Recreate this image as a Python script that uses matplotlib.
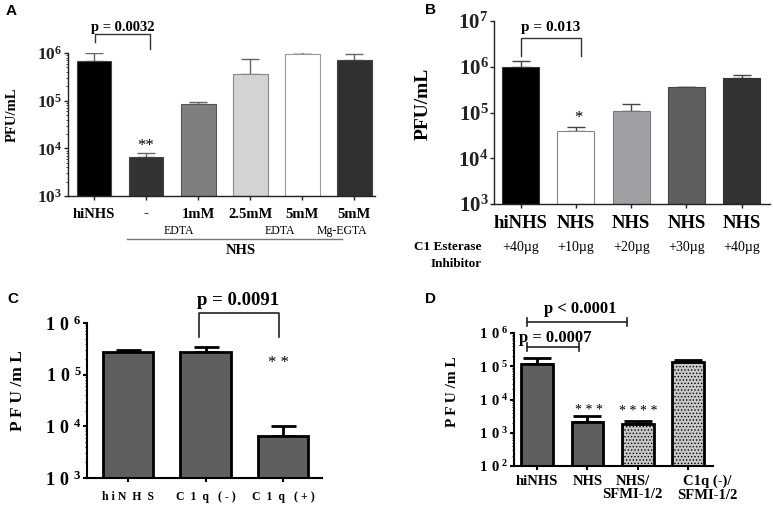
import numpy as np
import matplotlib
matplotlib.use("Agg")
import matplotlib.pyplot as plt
from matplotlib.ticker import LogLocator, FixedFormatter, NullFormatter

plt.rcParams['font.family'] = ['Liberation Serif', 'DejaVu Serif']
plt.rcParams['mathtext.fontset'] = 'custom'
plt.rcParams['mathtext.rm'] = 'Liberation Serif'
plt.rcParams['mathtext.bf'] = 'Liberation Serif:bold'
plt.rcParams['hatch.linewidth'] = 0.6

# ---- data ----
a_labels = ['hiNHS', '-', '1mM', '2.5mM', '5mM', '5mM']
a_vals = [6.8e5, 6.6e3, 8.5e4, 3.6e5, 9.5e5, 7.1e5]
a_err_top = [9.8e5, 8.0e3, 9.3e4, 7.4e5, 1.07e6, 9.4e5]
a_colors = ['#000000', '#333333', '#7f7f7f', '#d3d3d3', '#ffffff', '#303030']

b_labels = ['hiNHS', 'NHS', 'NHS', 'NHS', 'NHS']
b_doses = ['+40\u00b5g', '+10\u00b5g', '+20\u00b5g', '+30\u00b5g', '+40\u00b5g']
b_vals = [9.7e5, 4.0e4, 1.1e5, 3.7e5, 5.75e5]
b_err_top = [1.35e6, 4.8e4, 1.55e5, 3.7e5, 6.5e5]
b_colors = ['#000000', '#ffffff', '#a0a0a4', '#5f5f5f', '#333333']

c_labels = ['h i N  H  S', 'C  1  q   ( - )', 'C  1  q   ( + )']
c_vals = [2.8e5, 2.7e5, 6.6e3]
c_err_top = [3.0e5, 3.5e5, 1.02e4]

d_labels = ['hiNHS', 'NHS', 'NHS/\nSFMI-1/2', 'C1q (-)/\nSFMI-1/2']
d_vals = [1.15e5, 2.1e3, 1.8e3, 1.37e5]
d_err_top = [1.75e5, 3.2e3, 2.3e3, 1.55e5]

W, H = 773, 507
fig = plt.figure(figsize=(W / 100, H / 100), dpi=100)


def px(x, y):
    return x / W, 1 - y / H


def box(x0, y0, x1, y1):
    # pixel box -> figure fraction rect
    return [x0 / W, 1 - y1 / H, (x1 - x0) / W, (y1 - y0) / H]


def setup_log(ax, lo, hi, fs, spaced=False, lw=1.0, col='black'):
    ax.set_yscale('log')
    ax.set_ylim(lo, hi)
    for s in ['top', 'right']:
        ax.spines[s].set_visible(False)
    for s in ['left', 'bottom']:
        ax.spines[s].set_linewidth(lw)
        ax.spines[s].set_color(col)
    exps = list(range(int(np.log10(lo)), int(np.log10(hi)) + 1))
    ax.set_yticks([10.0 ** e for e in exps])
    if spaced:
        labs = [r'$\mathbf{1\ 0^{\ %d}}$' % e for e in exps]
    else:
        labs = [r'$\mathbf{10^{%d}}$' % e for e in exps]
    ax.yaxis.set_major_formatter(FixedFormatter(labs))
    ax.yaxis.set_minor_locator(LogLocator(base=10, subs=np.arange(2, 10)))
    ax.yaxis.set_minor_formatter(NullFormatter())
    ax.tick_params(axis='y', which='major', length=3, width=lw, pad=1, labelsize=fs, colors=col)
    ax.tick_params(axis='y', which='minor', length=1.5, width=0.6, colors=col)
    ax.tick_params(axis='x', length=3, width=lw, colors=col, labelbottom=False)


def bars(ax, vals, tops, lo, width, colors, edge, elw, ecol, ecap, hatches=None):
    x = np.arange(len(vals))
    vals = np.array(vals)
    up = np.array(tops) - vals
    b = ax.bar(x, vals - lo, bottom=lo, width=width, color=colors,
               edgecolor=edge, linewidth=elw, zorder=2)
    if hatches:
        for r, h in zip(b, hatches):
            r.set_hatch(h)
    ax.errorbar(x, vals, yerr=[np.zeros_like(up), up], fmt='none', ecolor=ecol,
                elinewidth=elw if elw > 1 else 1.0, capsize=ecap, capthick=elw if elw > 1 else 1.0, zorder=1)
    ax.set_xticks(x)
    return x


# ---------------- A ----------------
axA = fig.add_axes(box(68, 53, 375, 196))
setup_log(axA, 1e3, 1e6, 12.5, col='#222222')
xa = bars(axA, a_vals, a_err_top, 1e3, 0.67, a_colors,
          ['#444444', '#444444', '#555555', '#888888', '#999999', '#444444'], 0.8, '#666666', 6.5)
axA.set_xlim(-0.5, 5.4)
ta = axA.get_xaxis_transform()
for i, l in enumerate(a_labels):
    axA.text(xa[i], -0.126, l, transform=ta, ha='center', va='center', fontsize=10.5, fontweight='bold')
axA.text(1.63, -0.245, 'EDTA', transform=ta, ha='center', va='center', fontsize=8.5)
axA.text(3.58, -0.245, 'EDTA', transform=ta, ha='center', va='center', fontsize=8.5)
axA.text(4.76, -0.245, 'Mg-EGTA', transform=ta, ha='center', va='center', fontsize=8.5)
axA.plot([0.63, 4.76], [-0.30, -0.30], transform=ta, color='#777777', lw=1, clip_on=False)
axA.text(2.83, -0.378, 'NHS', transform=ta, ha='center', va='center', fontsize=10.5, fontweight='bold')
axA.plot([0.02, 0.02, 1.07, 1.07], [1.077, 1.133, 1.133, 1.028], transform=ta, color='#333333', lw=1, clip_on=False)
axA.text(0.55, 1.18, 'p = 0.0032', transform=ta, ha='center', va='center', fontsize=10.5, fontweight='bold')
axA.text(1.0, 0.35, '**', transform=ta, ha='center', va='center', fontsize=12)
fig.text(*px(12, 115), 'PFU/mL', rotation=90, ha='center', va='center', fontsize=10.5, fontweight='bold')

# ---------------- B ----------------
axB = fig.add_axes(box(494, 21, 770, 204))
setup_log(axB, 1e3, 1e7, 15, col='#222222')
xb = bars(axB, b_vals, b_err_top, 1e3, 0.67, b_colors,
          ['#333333', '#888888', '#777777', '#444444', '#333333'], 0.8, '#444444', 6.5)
axB.set_xlim(-0.48, 4.51)
tb = axB.get_xaxis_transform()
for i, l in enumerate(b_labels):
    axB.text(xb[i], -0.104, l, transform=tb, ha='center', va='center', fontsize=13.5, fontweight='bold')
    axB.text(xb[i], -0.235, b_doses[i], transform=tb, ha='center', va='center', fontsize=10)
axB.text(-0.70, -0.235, 'C1 Esterase', transform=tb, ha='right', va='center', fontsize=9.5, fontweight='bold')
axB.text(-0.70, -0.328, 'Inhibitor', transform=tb, ha='right', va='center', fontsize=9.5, fontweight='bold')
axB.plot([0, 0, 1.09, 1.09], [0.809, 0.907, 0.907, 0.809], transform=tb, color='#333333', lw=1, clip_on=False)
axB.text(0.55, 0.967, 'p = 0.013', transform=tb, ha='center', va='center', fontsize=11, fontweight='bold')
axB.text(1.04, 0.47, '*', transform=tb, ha='center', va='center', fontsize=12)
fig.text(*px(423, 104), 'PFU/mL', rotation=90, ha='center', va='center', fontsize=14, fontweight='bold')

# ---------------- C ----------------
axC = fig.add_axes(box(87, 323, 322, 478))
setup_log(axC, 1e3, 1e6, 13, spaced=True, lw=1.5)
xc = bars(axC, c_vals, c_err_top, 1e3, 0.65, '#5f5f5f', 'black', 2.0, 'black', 9)
axC.set_xlim(-0.53, 2.5)
tc = axC.get_xaxis_transform()
for i, l in enumerate(c_labels):
    axC.text(xc[i], -0.123, l, transform=tc, ha='center', va='center', fontsize=8.5, fontweight='bold')
axC.plot([0.92, 0.92, 1.94, 1.94], [0.912, 1.066, 1.066, 0.912], transform=tc, color='#222222', lw=1.2, clip_on=False)
axC.text(1.42, 1.148, 'p = 0.0091', transform=tc, ha='center', va='center', fontsize=13.5, fontweight='bold')
axC.text(1.94, 0.74, '* *', transform=tc, ha='center', va='center', fontsize=12)
fig.text(*px(18, 391), 'P F U /m L', rotation=90, ha='center', va='center', fontsize=12.5, fontweight='bold')

# ---------------- D ----------------
axD = fig.add_axes(box(514, 333, 713, 466))
setup_log(axD, 1e2, 1e6, 10.5, spaced=True, lw=1.5)
xd = bars(axD, d_vals, d_err_top, 1e2, 0.63, ['#5f5f5f', '#5f5f5f', '#c8c8c8', '#c8c8c8'],
          'black', 2.0, 'black', 10, hatches=[None, None, '.....', '.....'])
axD.set_xlim(-0.455, 3.49)
td = axD.get_xaxis_transform()
d_shift = [0, 0, -0.1, 0.38]
for i, l in enumerate(d_labels):
    axD.text(xd[i] + d_shift[i], -0.065, l, transform=td, ha='center', va='top', fontsize=10.5,
             fontweight='bold', linespacing=1.05)
axD.plot([-0.2, 1.79], [1.085, 1.085], transform=td, color='#222222', lw=1.2, clip_on=False)
axD.plot([-0.2, -0.2], [1.055, 1.115], transform=td, color='#222222', lw=1.2, clip_on=False)
axD.plot([1.79, 1.79], [1.055, 1.115], transform=td, color='#222222', lw=1.2, clip_on=False)
axD.text(0.85, 1.18, 'p < 0.0001', transform=td, ha='center', va='center', fontsize=12, fontweight='bold')
axD.plot([-0.2, 0.83], [0.897, 0.897], transform=td, color='#222222', lw=1.2, clip_on=False)
axD.plot([-0.2, -0.2], [0.867, 0.927], transform=td, color='#222222', lw=1.2, clip_on=False)
axD.plot([0.83, 0.83], [0.867, 0.927], transform=td, color='#222222', lw=1.2, clip_on=False)
axD.text(0.36, 0.962, 'p = 0.0007', transform=td, ha='center', va='center', fontsize=12, fontweight='bold')
axD.text(1.03, 0.42, '* * *', transform=td, ha='center', va='center', fontsize=10)
axD.text(2.0, 0.41, '* * * *', transform=td, ha='center', va='center', fontsize=10)
fig.text(*px(452, 392), 'P F U /m L', rotation=90, ha='center', va='center', fontsize=11, fontweight='bold')

# panel letters
for lab, (x, y) in zip('ABCD', [(11, 11), (431, 10), (13, 299), (431, 299)]):
    fig.text(*px(x, y), lab, ha='center', va='center', fontsize=11, fontweight='bold',
             family=['Liberation Sans', 'DejaVu Sans'])

fig.savefig('out.png', dpi=100)
